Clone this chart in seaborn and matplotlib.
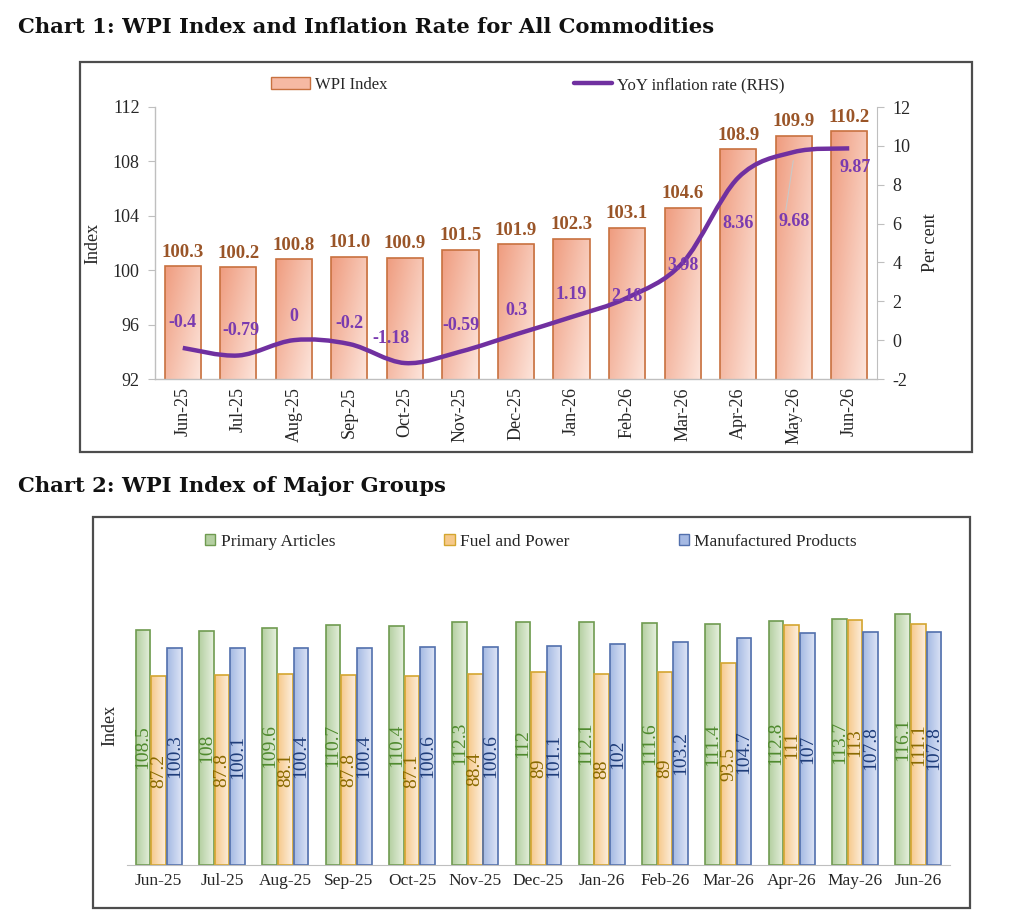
import numpy as np
import pandas as pd
import matplotlib
matplotlib.use("Agg")
import matplotlib.pyplot as plt
import seaborn as sns
from matplotlib.colors import LinearSegmentedColormap
from matplotlib.patches import Patch, Rectangle
from matplotlib.lines import Line2D
from matplotlib.path import Path
from matplotlib.patches import PathPatch

# ---------------- data ----------------
months = ["Jun-25", "Jul-25", "Aug-25", "Sep-25", "Oct-25", "Nov-25", "Dec-25",
          "Jan-26", "Feb-26", "Mar-26", "Apr-26", "May-26", "Jun-26"]
wpi_index = [100.3, 100.2, 100.8, 101.0, 100.9, 101.5, 101.9, 102.3, 103.1, 104.6, 108.9, 109.9, 110.2]
yoy_inflation = [-0.4, -0.79, 0, -0.2, -1.18, -0.59, 0.3, 1.19, 2.18, 3.98, 8.36, 9.68, 9.87]

groups = ["Primary Articles", "Fuel and Power", "Manufactured Products"]
primary_articles = [108.5, 108, 109.6, 110.7, 110.4, 112.3, 112, 112.1, 111.6, 111.4, 112.8, 113.7, 116.1]
fuel_power = [87.2, 87.8, 88.1, 87.8, 87.1, 88.4, 89, 88, 89, 93.5, 111, 113, 111.1]
manufactured = [100.3, 100.1, 100.4, 100.4, 100.6, 100.6, 101.1, 102, 103.2, 104.7, 107, 107.8, 107.8]

left_ticks = [92, 96, 100, 104, 108, 112]
right_ticks = [-2, 0, 2, 4, 6, 8, 10, 12]

# label vertical offsets (points) for the inflation labels (style only)
LINE_LABEL_DY = [18, 18, 17, 15, 18, 19, 17, 16, 1, -2, -33, -50, -14]
LINE_LABEL_DX = [0, 2, 0, 0, -10, 0, 0, 0, 0, 0, 0, 0, 4]

# ---------------- style ----------------
sns.set_style("white")
plt.rcParams["font.family"] = ["Liberation Serif", "DejaVu Serif"]

W, H = 1024, 923
fig = plt.figure(figsize=(W / 100, H / 100), dpi=100)


def fx(px):
    return px / W


def fy(py):
    return 1 - py / H


def grad_fill(ax, patch, dark, light, mode, ylo=None):
    x0, y0 = patch.get_x(), patch.get_y()
    w, h = patch.get_width(), patch.get_height()
    y1 = y0 + h
    if ylo is not None:
        y0 = max(y0, ylo)
    n = 64
    u = np.linspace(0, 1, n)[None, :].repeat(n, 0)
    v = np.linspace(0, 1, n)[:, None].repeat(n, 1)
    if mode == "diag":
        d = 0.6 * (1 - u) + 0.4 * v
    else:
        d = 1 - u
    cmap = LinearSegmentedColormap.from_list("g", [light, dark])
    im = ax.imshow(d, extent=[x0, x0 + w, y0, y1], origin="lower", aspect="auto",
                   cmap=cmap, vmin=0, vmax=1, zorder=patch.get_zorder() - 0.1,
                   interpolation="bilinear")
    im.set_clip_path(patch)
    patch.set_facecolor("none")


# ---------------- titles ----------------
title_kw = dict(family=["DejaVu Serif"], fontweight="bold", fontsize=15.2, color="#111111",
                va="center", ha="left")
fig.text(fx(18), fy(27), "Chart 1: WPI Index and Inflation Rate for All Commodities", **title_kw)
fig.text(fx(18), fy(486), "Chart 2: WPI Index of Major Groups", **title_kw)

# boxes
for (x0, y0, x1, y1) in [(80, 62, 972, 452), (93, 517, 970, 908)]:
    fig.add_artist(Rectangle((fx(x0), fy(y1)), fx(x1 - x0), (y1 - y0) / H,
                             transform=fig.transFigure, fill=False,
                             edgecolor="#4d4d4d", linewidth=1.6))

# ---------------- chart 1 ----------------
ax1 = fig.add_axes([fx(155), fy(379), fx(877 - 155), (379 - 107) / H])
df1 = pd.DataFrame({"month": months, "wpi": wpi_index})
sns.barplot(data=df1, x="month", y="wpi", color="#f4b09a", width=0.65, errorbar=None,
            edgecolor="#c8713f", linewidth=1.2, ax=ax1, zorder=2)
ax1.set_ylim(92, 112)
ax1.set_xlim(-0.5, len(months) - 0.5)
for p in ax1.containers[0]:
    grad_fill(ax1, p, "#ef9c7f", "#fde6dd", "diag", ylo=92)
ax1.set_xlim(-0.5, len(months) - 0.5)
ax1.set_ylim(92, 112)
ax1.bar_label(ax1.containers[0], labels=[f"{v:.1f}" for v in wpi_index], padding=4,
              fontsize=13.5, fontweight="bold", color="#9a5528")
ax1.set_yticks(left_ticks)
ax1.set_yticklabels([str(t) for t in left_ticks], fontsize=13, color="#262626")
ax1.set_xticks(range(len(months)))
ax1.set_xticklabels(months, rotation=90, fontsize=13, color="#262626")
ax1.set_xticks(np.arange(-0.5, len(months), 1), minor=True)
ax1.tick_params(axis="x", which="major", length=0, pad=6)
ax1.tick_params(axis="x", which="minor", length=5, color="#bfbfbf", direction="out")
ax1.tick_params(axis="y", length=5, color="#bfbfbf", direction="out", pad=6)
ax1.set_xlabel("")
ax1.set_ylabel("Index", fontsize=13, color="#262626", labelpad=8)
for s in ["top", "right"]:
    ax1.spines[s].set_visible(False)
for s in ["left", "bottom"]:
    ax1.spines[s].set_color("#bfbfbf")
    ax1.spines[s].set_linewidth(1.0)

ax1b = ax1.twinx()
ax1b.set_ylim(-2, 12)
ax1b.set_yticks(right_ticks)
ax1b.set_yticklabels([str(t) for t in right_ticks], fontsize=13, color="#262626")
ax1b.tick_params(axis="y", length=5, color="#bfbfbf", direction="out", pad=6)
ax1b.set_ylabel("Per cent", fontsize=13, color="#262626", labelpad=8)
for s in ["top", "left", "bottom"]:
    ax1b.spines[s].set_visible(False)
ax1b.spines["right"].set_color("#bfbfbf")

# smoothed inflation line (Catmull-Rom -> cubic Bezier through the data points)
xs = np.arange(len(yoy_inflation), dtype=float)
ys = np.array(yoy_inflation, dtype=float)
pts = np.column_stack([xs, ys])
verts = [tuple(pts[0])]
codes = [Path.MOVETO]
n = len(pts)
for i in range(n - 1):
    p0 = pts[i - 1] if i > 0 else pts[i]
    p1 = pts[i]
    p2 = pts[i + 1]
    p3 = pts[i + 2] if i + 2 < n else pts[i + 1]
    c1 = p1 + (p2 - p0) / 6.0
    c2 = p2 - (p3 - p1) / 6.0
    verts += [tuple(c1), tuple(c2), tuple(p2)]
    codes += [Path.CURVE4] * 3
ax1b.add_patch(PathPatch(Path(verts, codes), facecolor="none", edgecolor="#7030a0",
                         linewidth=3.2, capstyle="butt", zorder=5))
for i, v in enumerate(yoy_inflation):
    ax1b.annotate(f"{v:g}", (i, v), xytext=(LINE_LABEL_DX[i], LINE_LABEL_DY[i]),
                  textcoords="offset points", ha="center", va="center",
                  fontsize=13, fontweight="bold", color="#7a3bb0", zorder=6)
ax1b.annotate("", (11, yoy_inflation[11] - 0.3), xytext=(-6, -40), textcoords="offset points",
              arrowprops=dict(arrowstyle="-", color="#c8c8c8", lw=0.8))

fig.legend(handles=[Patch(facecolor="#f6b9a3", edgecolor="#c8713f", label="WPI Index"),
                    Line2D([], [], color="#7030a0", lw=3.2, label="YoY inflation rate (RHS)")],
           loc="center", bbox_to_anchor=(fx(528), fy(85)), ncol=2, frameon=False,
           fontsize=12, handlelength=2.3, handleheight=0.7, columnspacing=11.2,
           handletextpad=0.3)

# ---------------- chart 2 ----------------
ax2 = fig.add_axes([fx(127), fy(865), fx(950 - 127), (865 - 585) / H])
df2 = pd.DataFrame({
    "month": months * 3,
    "value": primary_articles + fuel_power + manufactured,
    "group": [groups[0]] * len(months) + [groups[1]] * len(months) + [groups[2]] * len(months),
})
dark_cols = ["#b4cfa1", "#f6c98b", "#a5b9e3"]
light_cols = ["#e6f0de", "#fdefdf", "#dde5f6"]
edge_cols = ["#6f9b50", "#d4a630", "#5270ad"]
label_cols = ["#4f8a2e", "#8a6a00", "#1f3d7a"]
sns.barplot(data=df2, x="month", y="value", hue="group", hue_order=groups,
            palette=dict(zip(groups, dark_cols)), width=0.74, gap=0.06, errorbar=None,
            legend=False, ax=ax2, linewidth=1.2, zorder=2)
ax2.set_ylim(0, 129.3)
series = [primary_articles, fuel_power, manufactured]
for k, cont in enumerate(ax2.containers):
    for p in cont:
        p.set_edgecolor(edge_cols[k])
        grad_fill(ax2, p, dark_cols[k], light_cols[k], "horiz")
    ax2.bar_label(cont, labels=[f"{v:g}" for v in series[k]], label_type="center",
                  rotation=90, fontsize=14, color=label_cols[k])
ax2.set_xlim(-0.5, len(months) - 0.5)
ax2.set_ylim(0, 129.3)
ax2.set_yticks([])
ax2.set_ylabel("Index", fontsize=13, color="#262626", labelpad=6)
ax2.set_xlabel("")
ax2.set_xticks(range(len(months)))
ax2.set_xticklabels(months, fontsize=12.5, color="#262626")
ax2.set_xticks(np.arange(-0.5, len(months), 1), minor=True)
ax2.tick_params(axis="x", which="major", length=0, pad=6)
ax2.tick_params(axis="x", which="minor", length=5, color="#bfbfbf", direction="out")
for s in ["top", "right", "left"]:
    ax2.spines[s].set_visible(False)
ax2.spines["bottom"].set_color("#bfbfbf")

fig.legend(handles=[Patch(facecolor=dark_cols[k], edgecolor=edge_cols[k], label=groups[k])
                    for k in range(3)],
           loc="center", bbox_to_anchor=(fx(531), fy(542)), ncol=3, frameon=False,
           fontsize=12.5, handlelength=0.6, handleheight=0.6, columnspacing=6.3,
           handletextpad=0.3)

fig.savefig("out.png", dpi=100, facecolor="white")
